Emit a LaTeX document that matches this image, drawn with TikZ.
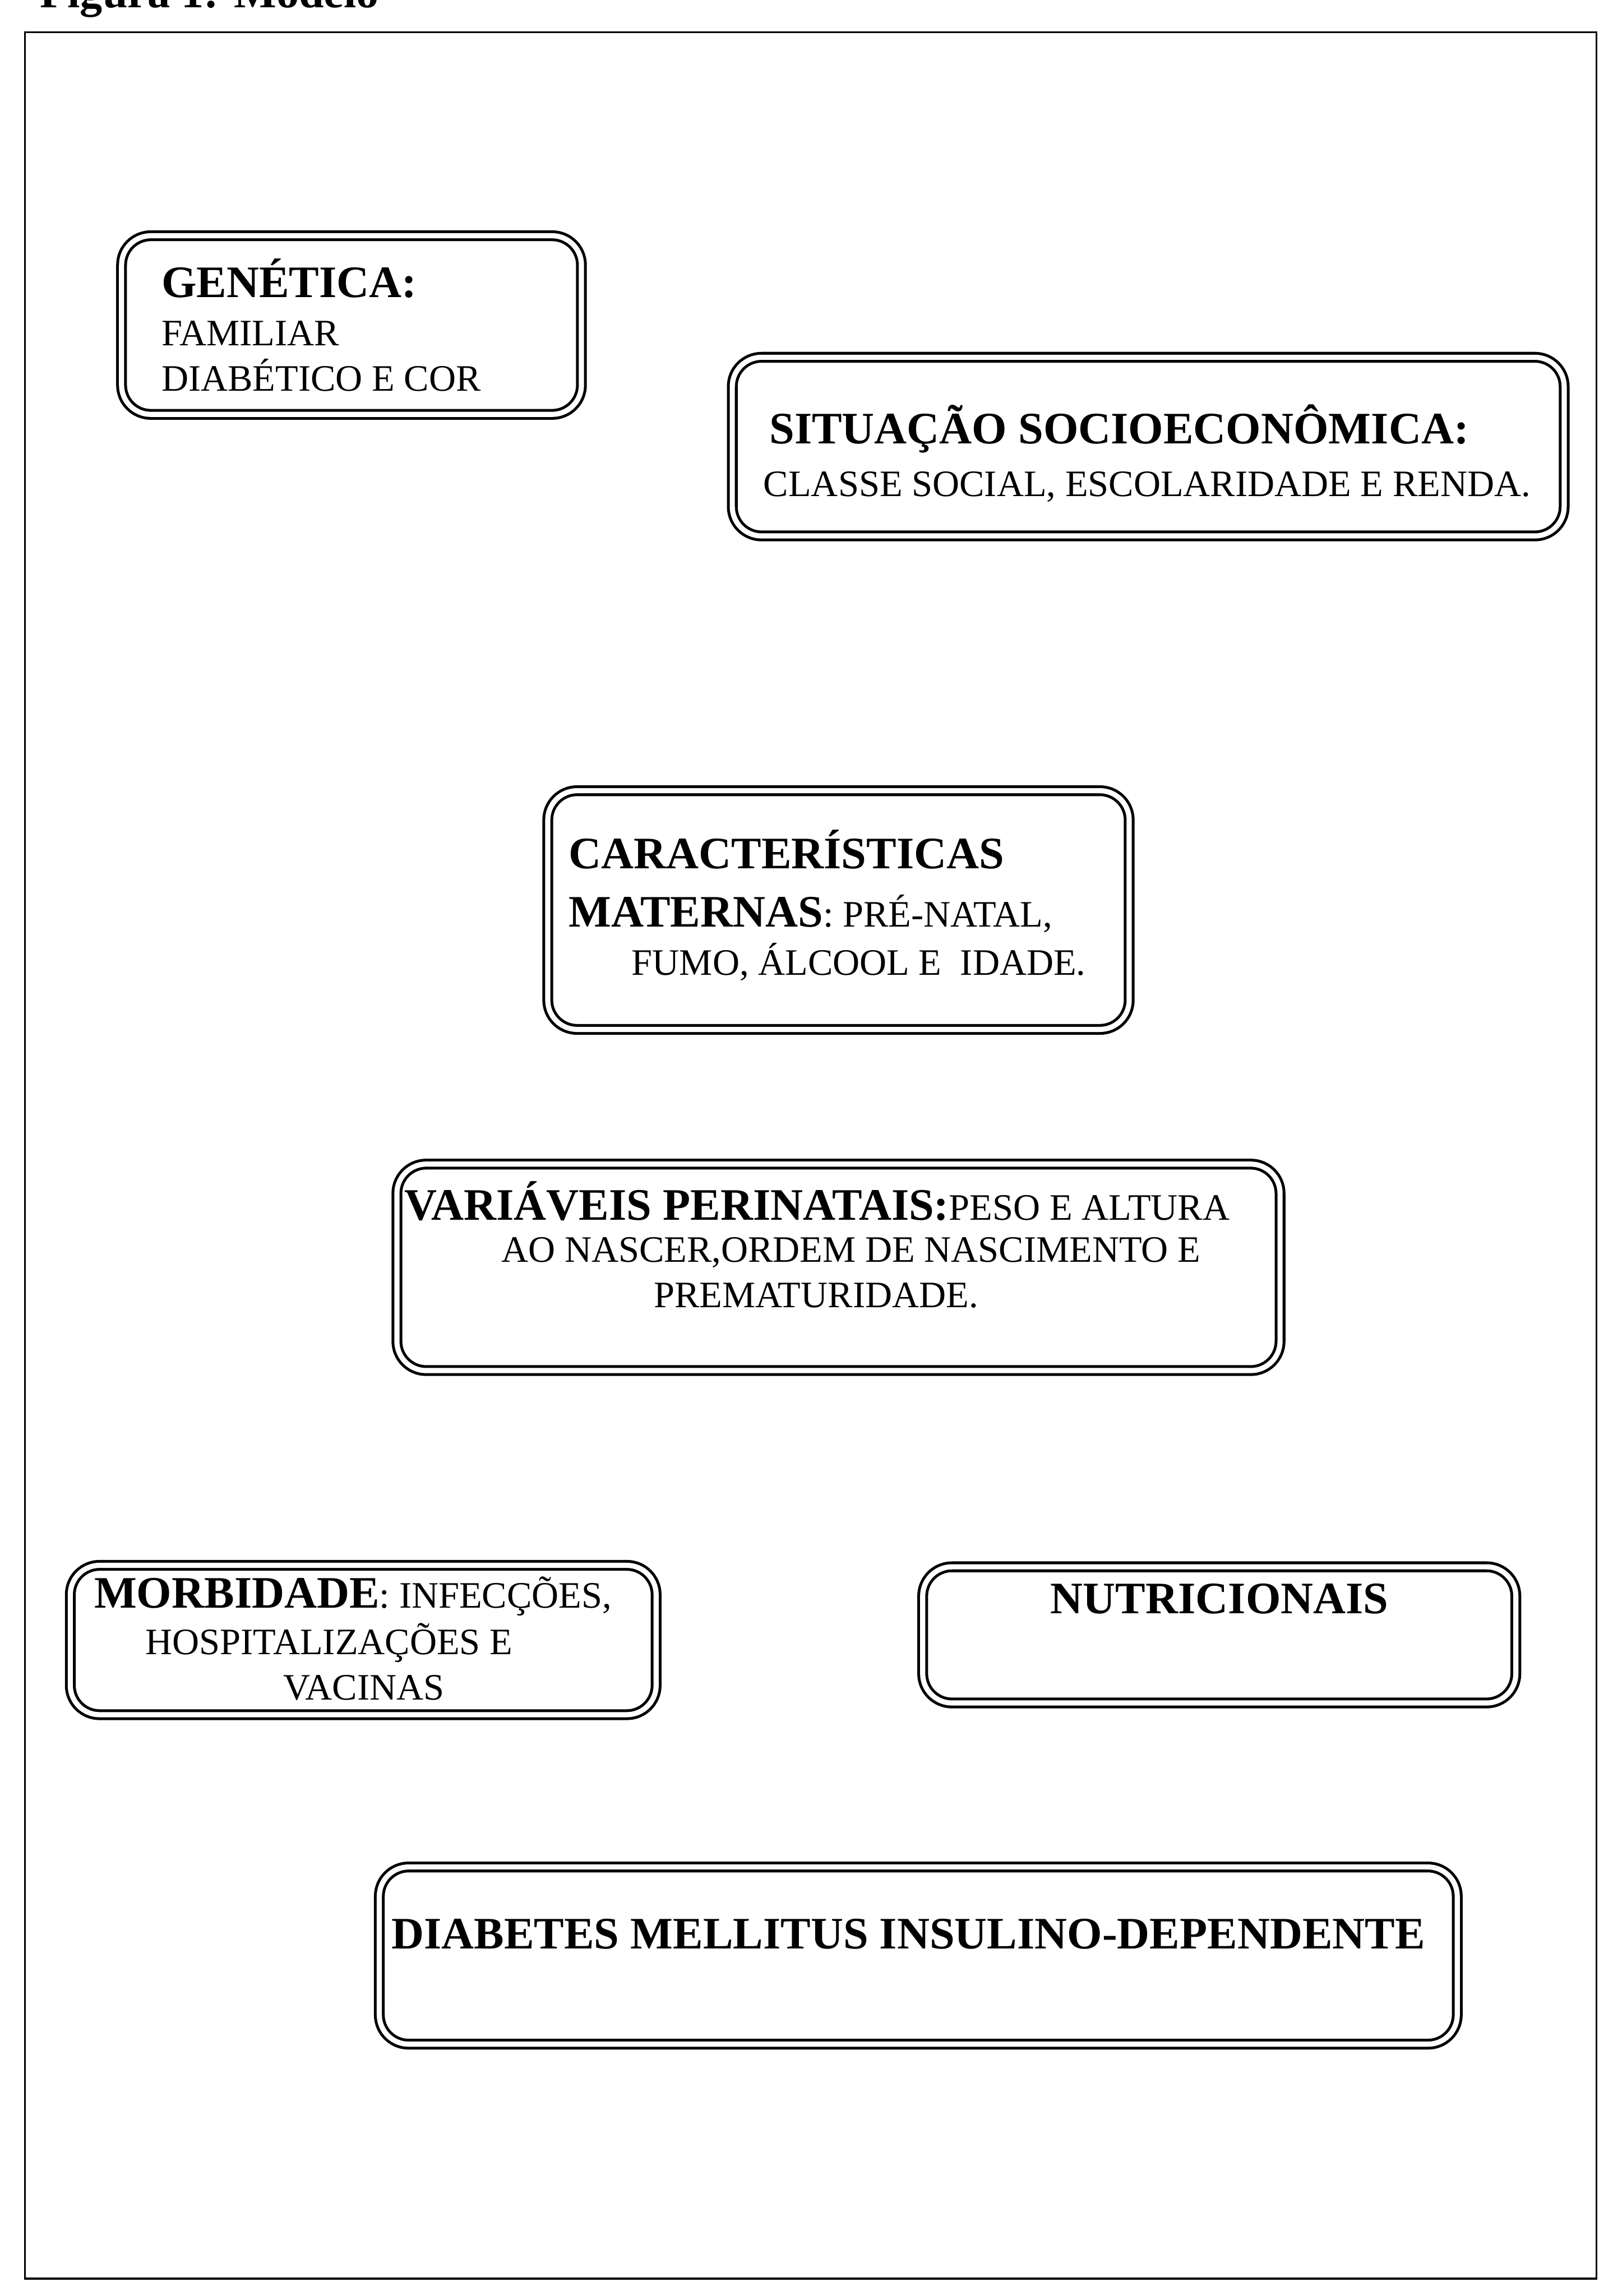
\documentclass[tikz,border=0pt]{standalone}
\usepackage{fontspec}
\setmainfont{Liberation Serif}
\usepackage{tikz}
\usetikzlibrary{calc, arrows}
\tikzstyle{fator}=[draw, double, double distance=2pt, line width=1.1pt, rounded corners=0.4cm, inner sep=0pt]
\tikzstyle{txt}=[anchor=base west, inner sep=0pt, font=\fontsize{14.5}{17}\selectfont]
\newcommand{\titulo}[1]{{\fontsize{17.5}{17}\selectfont\bfseries #1}}

\begin{document}
\begin{tikzpicture}
      \useasboundingbox (0,0) rectangle (22.02,-31.36);
      \clip (0,0) rectangle (22.02,-31.36);
      \draw[line width=0.8pt] (0.34,-0.44) rectangle (21.80,-31.12);
      \node [txt] (leg) at (0.54,-0.10) {\titulo{Figura 1: Modelo}};
      \node [fator, minimum width=6.28cm, minimum height=2.44cm] (gen) at (4.80,-4.44) {};
      \node [fator, minimum width=11.36cm, minimum height=2.44cm] (sit) at (15.68,-6.10) {};
      \node [fator, minimum width=7.94cm, minimum height=3.26cm] (car) at (11.45,-12.43) {};
      \node [fator, minimum width=12.06cm, minimum height=2.82cm] (var) at (11.45,-17.31) {};
      \node [fator, minimum width=8.00cm, minimum height=2.04cm] (mor) at (4.96,-22.40) {};
      \node [fator, minimum width=8.10cm, minimum height=1.86cm] (nut) at (16.65,-22.33) {};
      \node [fator, minimum width=14.72cm, minimum height=2.42cm] (dia) at (12.54,-26.71) {};
      \node [txt] (gen1) at (2.20,-4.06) {\titulo{GENÉTICA:}};
      \node [txt] (gen2) at (2.20,-4.72) {FAMILIAR};
      \node [txt] (gen3) at (2.20,-5.34) {DIABÉTICO E COR};
      \node [txt] (sit1) at (10.50,-6.06) {\titulo{SITUAÇÃO SOCIOECONÔMICA:}};
      \node [txt] (sit2) at (10.42,-6.78) {CLASSE SOCIAL, ESCOLARIDADE E RENDA.};
      \node [txt] (car1) at (7.76,-11.86) {\titulo{CARACTERÍSTICAS}};
      \node [txt] (car2) at (7.76,-12.66) {\titulo{MATERNAS}: PRÉ-NATAL,};
      \node [txt] (car3) at (8.62,-13.32) {FUMO, ÁLCOOL E\ \ IDADE.};
      \node [txt] (var1) at (5.52,-16.66) {\titulo{VARIÁVEIS PERINATAIS:}PESO E ALTURA};
      \node [txt] (var2) at (6.84,-17.24) {AO NASCER,ORDEM DE NASCIMENTO E};
      \node [txt] (var3) at (8.92,-17.86) {PREMATURIDADE.};
      \node [txt] (mor1) at (1.28,-21.96) {\titulo{MORBIDADE}: INFECÇÕES,};
      \node [txt] (mor2) at (1.98,-22.60) {HOSPITALIZAÇÕES E};
      \node [txt] (mor3) at (3.86,-23.22) {VACINAS};
      \node [txt] (nut1) at (14.34,-22.04) {\titulo{NUTRICIONAIS}};
      \node [txt] (dia1) at (5.34,-26.62) {\titulo{DIABETES MELLITUS INSULINO-DEPENDENTE}};
\end{tikzpicture}
\end{document}
